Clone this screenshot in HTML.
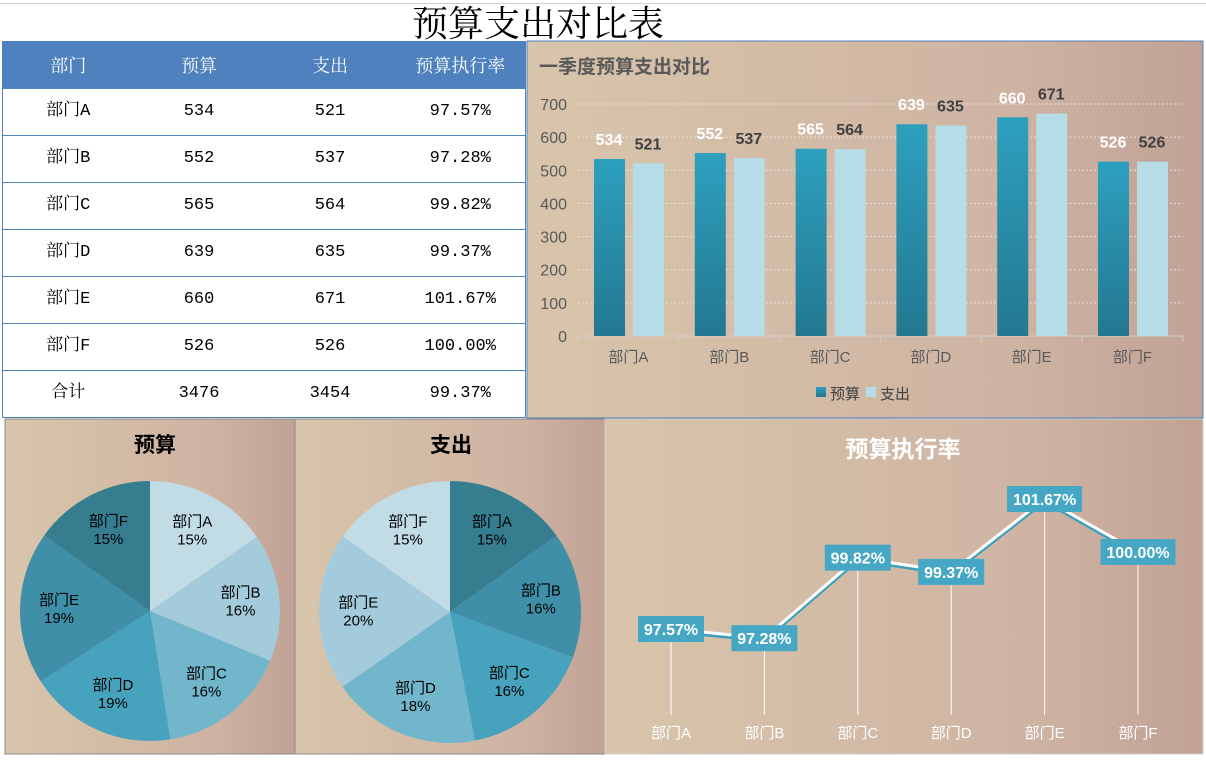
<!DOCTYPE html>
<html><head><meta charset="utf-8"><style>
body{margin:0;width:1206px;height:761px;background:#fff;overflow:hidden;position:relative;font-family:"Liberation Sans","Noto Sans CJK SC",sans-serif}
table{position:absolute;left:2px;top:41px;width:524px;border-collapse:collapse;font-family:"Liberation Mono","Noto Serif CJK SC",monospace;font-size:17px;border:1px solid #4e81bd}
th{background:#4e81bd;color:#fff;height:47px;padding:0;font-weight:normal;font-size:18px;font-family:"Liberation Serif","Noto Serif CJK SC",serif;box-sizing:border-box}
td{height:47px;padding:0;border-bottom:1px solid #4e81bd;text-align:center;box-sizing:border-box;line-height:20px}
</style></head><body>
<div style="position:absolute;left:0;top:0;width:1206px;height:3px;border-bottom:1px solid #c8d0e0"></div>
<div style="position:absolute;left:412px;top:4px;font-family:'Liberation Serif','Noto Serif CJK SC',serif;font-size:36px;line-height:40px">预算支出对比表</div>
<table>
<tr><th style="width:131px">部门</th><th style="width:131px">预算</th><th style="width:131px">支出</th><th>预算执行率</th></tr>
<tr><td>部门A</td><td>534</td><td>521</td><td>97.57%</td></tr>
<tr><td>部门B</td><td>552</td><td>537</td><td>97.28%</td></tr>
<tr><td>部门C</td><td>565</td><td>564</td><td>99.82%</td></tr>
<tr><td>部门D</td><td>639</td><td>635</td><td>99.37%</td></tr>
<tr><td>部门E</td><td>660</td><td>671</td><td>101.67%</td></tr>
<tr><td>部门F</td><td>526</td><td>526</td><td>100.00%</td></tr>
<tr><td>合计</td><td>3476</td><td>3454</td><td>99.37%</td></tr>
</table>
<svg id="s" width="1206" height="761" style="position:absolute;left:0;top:0" font-family="Liberation Sans, Noto Sans CJK SC, sans-serif">
<defs>
<linearGradient id="bg" x1="0" x2="1"><stop offset="0" stop-color="#d8c5ab"/><stop offset="0.7" stop-color="#cfb4a3"/><stop offset="1" stop-color="#c1a296"/></linearGradient>
<linearGradient id="bar1" x1="0" y1="0" x2="0" y2="1"><stop offset="0" stop-color="#2da0bf"/><stop offset="1" stop-color="#237890"/></linearGradient>
</defs>
<rect x="527" y="41" width="676" height="377" fill="url(#bg)" stroke="#4e81bd"/>
<rect x="5" y="419" width="290" height="335" fill="url(#bg)" stroke="#8a8a8a"/>
<rect x="295" y="419" width="310" height="335" fill="url(#bg)" stroke="#8a8a8a"/>
<rect x="605" y="419" width="598" height="335" fill="url(#bg)" stroke="#ccc"/>
<text x="539" y="73" font-size="19" font-weight="bold" fill="#595959">一季度预算支出对比</text>
<text x="155" y="452" font-size="21" font-weight="bold" text-anchor="middle">预算</text>
<text x="451" y="452" font-size="21" font-weight="bold" text-anchor="middle">支出</text>
<text x="903" y="457" font-size="23" font-weight="bold" fill="#fff" text-anchor="middle">预算执行率</text>
<g id="g"></g>
</svg>
<script>
const categories=["部门A","部门B","部门C","部门D","部门E","部门F"];
const budget=[534,552,565,639,660,526];
const spend=[521,537,564,635,671,526];
const rate=[97.57,97.28,99.82,99.37,101.67,100.00];
const yTicks=[0,100,200,300,400,500,600,700];
const budgetPct=["15%","16%","16%","19%","19%","15%"];
const spendPct=["15%","16%","16%","18%","20%","15%"];
const NS="http://www.w3.org/2000/svg",g=document.getElementById('g');
function mk(t,a,txt){const e=document.createElementNS(NS,t);for(const k in a)e.setAttribute(k,a[k]);if(txt!=null)e.textContent=txt;g.appendChild(e);return e;}
const y0=336,yk=232/700,x0=578,gw=100.8;
const yB=v=>y0-v*yk, xB=i=>x0+i*gw;
yTicks.forEach(t=>{const ln=mk('line',{x1:578,x2:1183,y1:yB(t),y2:yB(t),stroke:t?'#e8e0d8':'#d0d0d0','stroke-dasharray':t?'2,2':'none'});

const tx=mk('text',{x:567,y:yB(t)+6,'font-size':16,fill:'#595959','text-anchor':'end'},t);
});
categories.forEach((c,i)=>{
const tk=mk('line',{x1:xB(i),x2:xB(i),y1:336,y2:342,stroke:'#d0d0d0'});
const b=mk('rect',{x:xB(i)+16,y:yB(budget[i]),width:31,height:budget[i]*yk,fill:'url(#bar1)'});

const s=mk('rect',{x:xB(i)+55,y:yB(spend[i]),width:31,height:spend[i]*yk,fill:'#b5dce7'});

const l1=mk('text',{x:xB(i)+31,y:yB(budget[i])-14,'font-size':16,'font-weight':'bold',fill:'#fff','text-anchor':'middle'},budget[i]);

const l2=mk('text',{x:xB(i)+70,y:yB(spend[i])-14,'font-size':16,'font-weight':'bold',fill:'#404040','text-anchor':'middle'},spend[i]);

const cl=mk('text',{x:xB(i)+gw/2,y:362,'font-size':15,fill:'#595959','text-anchor':'middle'},c);
});
const tk6=mk('line',{x1:xB(6),x2:xB(6),y1:336,y2:342,stroke:'#d0d0d0'});
let e;
e=mk('rect',{x:816,y:387,width:10,height:10,fill:'url(#bar1)'});
e=mk('text',{x:830,y:399,'font-size':15,fill:'#404040'},'预算');
e=mk('rect',{x:866,y:387,width:10,height:10,fill:'#b5dce7'});
e=mk('text',{x:880,y:399,'font-size':15,fill:'#404040'},'支出');
function pie(cx,cy,r,vals,cols,pcts,name){const tot=vals.reduce((a,b)=>a+b,0);let a=-Math.PI/2;
vals.forEach((v,i)=>{const da=v/tot*2*Math.PI,a2=a+da;
const p=mk('path',{d:`M${cx},${cy}L${cx+r*Math.cos(a)},${cy+r*Math.sin(a)}A${r},${r} 0 ${da>Math.PI?1:0} 1 ${cx+r*Math.cos(a2)},${cy+r*Math.sin(a2)}Z`,fill:cols[i]});

const m=a+da/2,lx=cx+r*0.7*Math.cos(m),ly=cy+r*0.7*Math.sin(m);
const t1=mk('text',{x:lx,y:ly-4,'font-size':15,'text-anchor':'middle'},categories[i]);
const t2=mk('text',{x:lx,y:ly+14,'font-size':15,'text-anchor':'middle'},pcts[i]);
a=a2;});}
pie(150,611,130,budget,['#c2dce6','#a3cbdb','#72b6cc','#47a3bd','#3f8fa8','#357d8f'],budgetPct,'budget-pie');
pie(450,612,131,spend,['#357d8f','#3f8fa8','#47a3bd','#72b6cc','#a3cbdb','#c2dce6'],spendPct,'spend-pie');
const xL=i=>671+i*93.4, yL=v=>629-(v-97.57)*31.7;
categories.forEach((c,i)=>{e=mk('line',{x1:xL(i),x2:xL(i),y1:yL(rate[i]),y2:715,stroke:'#fff','stroke-width':1});
e=mk('text',{x:xL(i),y:738,'font-size':15,fill:'#fff','text-anchor':'middle'},c);});
e=mk('polyline',{points:rate.map((v,i)=>xL(i)+','+(yL(v)+2)).join(' '),fill:'none',stroke:'#3a9fba','stroke-width':4});
e=mk('polyline',{points:rate.map((v,i)=>xL(i)+','+yL(v)).join(' '),fill:'none',stroke:'#fff','stroke-width':3});
rate.forEach((v,i)=>{const s=v.toFixed(2)+'%',w=s.length*9+12;
e=mk('rect',{x:xL(i)-w/2,y:yL(v)-13,width:w,height:26,fill:'#45a7c4'});
e=mk('text',{x:xL(i),y:yL(v)+6,'font-size':16,'font-weight':'bold',fill:'#fff','text-anchor':'middle'},s);});
</script>
</body></html>
